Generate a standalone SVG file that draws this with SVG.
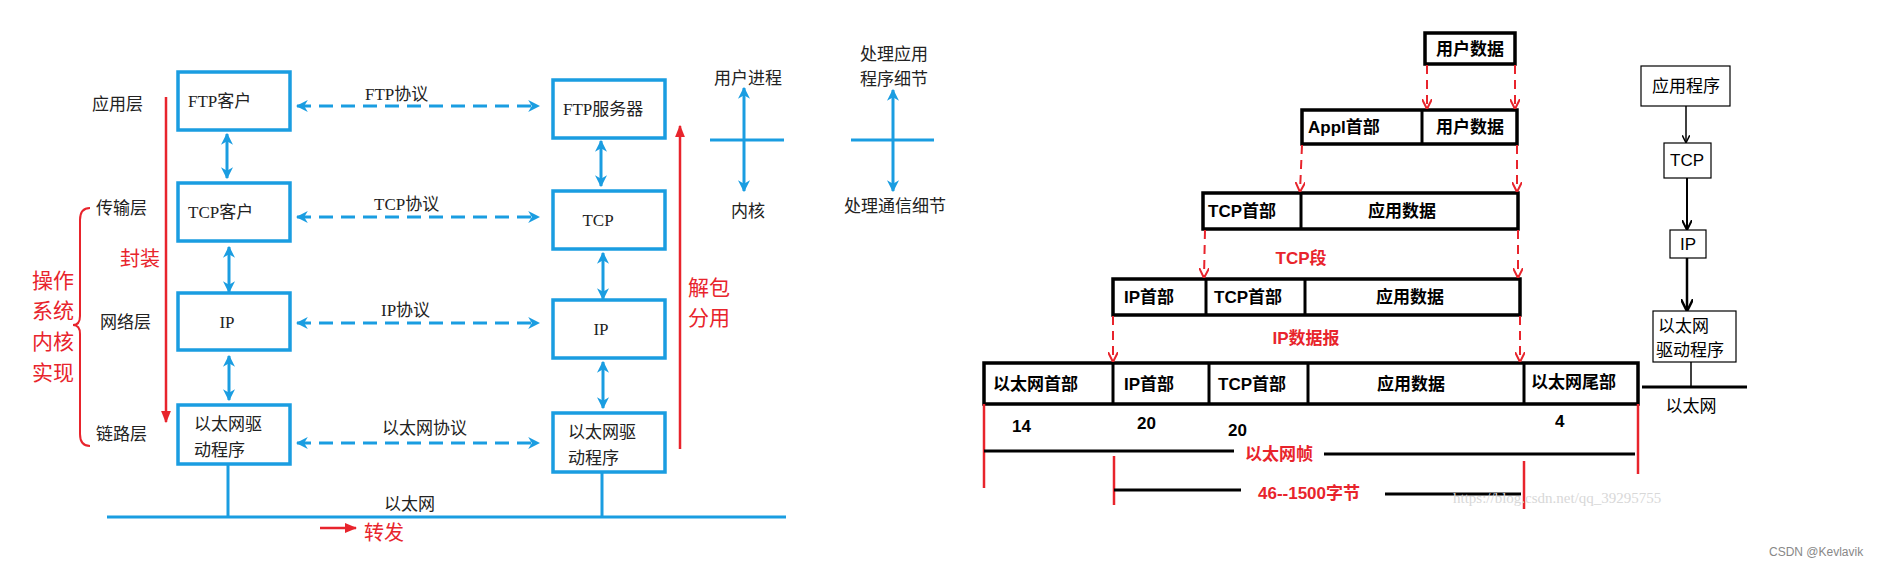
<svg xmlns="http://www.w3.org/2000/svg" width="1881" height="564" viewBox="0 0 1881 564">
<style>
text{font-family:"Liberation Serif","Noto Sans CJK SC",serif;font-size:17px;fill:#222}
.c{text-anchor:middle}
.bb{fill:none;stroke:#1a9de1;stroke-width:3.5}
.bl{stroke:#1a9de1;stroke-width:3;fill:none}
.dash{stroke:#1a9de1;stroke-width:3;stroke-dasharray:14,8;fill:none}
.tb{fill:#fff;stroke:#000;stroke-width:3.5}
.tt{font-family:"Liberation Sans","Noto Sans CJK SC",sans-serif;font-size:17px;fill:#000;font-weight:bold}
text.r{fill:#e8242c}
.rd{stroke:#e8242c;stroke-width:2;stroke-dasharray:9,6;fill:none}
.rl{stroke:#e8242c;stroke-width:2.5}
.k{stroke:#000;stroke-width:3}
.sb{fill:#fff;stroke:#000;stroke-width:1.2}
</style>
<defs>
<marker id="ba" viewBox="0 0 10 10" refX="9" refY="5" markerWidth="4" markerHeight="4" orient="auto-start-reverse"><path d="M0,0L10,5L0,10L3,5z" fill="#1a9de1"/></marker>
<marker id="ra" viewBox="0 0 10 10" refX="9" refY="5" markerWidth="5" markerHeight="5" orient="auto"><path d="M0,1L10,5L0,9z" fill="#e8242c"/></marker>
<marker id="ro" viewBox="0 0 10 10" refX="9" refY="5" markerWidth="5" markerHeight="5" orient="auto"><path d="M0,0L10,5L0,10" fill="none" stroke="#e8242c" stroke-width="2"/></marker>
<marker id="ko" viewBox="0 0 10 10" refX="9" refY="5" markerWidth="5" markerHeight="5" orient="auto"><path d="M0,0L10,5L0,10" fill="none" stroke="#000" stroke-width="2"/></marker>
</defs>
<g id="left-nodes">
<g id="ftpc"><rect class="bb" x="178" y="72" width="112" height="58"/><text x="188" y="107">FTP客户</text></g>
<g id="tcpc"><rect class="bb" x="178" y="183" width="112" height="58"/><text x="188" y="218">TCP客户</text></g>
<g id="ipc"><rect class="bb" x="178" y="293" width="112" height="57"/><text class="c" x="227" y="328">IP</text></g>
<g id="ethc"><rect class="bb" x="178" y="405" width="112" height="59"/><text x="194" y="430">以太网驱</text><text x="194" y="456">动程序</text></g>
<g id="ftps"><rect class="bb" x="553" y="80" width="112" height="58"/><text x="563" y="115">FTP服务器</text></g>
<g id="tcps"><rect class="bb" x="553" y="191" width="112" height="58"/><text class="c" x="598" y="226">TCP</text></g>
<g id="ips"><rect class="bb" x="553" y="300" width="112" height="58"/><text class="c" x="601" y="335">IP</text></g>
<g id="eths"><rect class="bb" x="553" y="413" width="112" height="59"/><text x="568" y="438">以太网驱</text><text x="568" y="464">动程序</text></g>
</g>
<g id="left-connectors">
<line class="dash" x1="297" y1="106" x2="539" y2="106" marker-start="url(#ba)" marker-end="url(#ba)"/>
<line class="dash" x1="297" y1="217" x2="539" y2="217" marker-start="url(#ba)" marker-end="url(#ba)"/>
<line class="dash" x1="297" y1="323" x2="539" y2="323" marker-start="url(#ba)" marker-end="url(#ba)"/>
<line class="dash" x1="297" y1="443" x2="539" y2="443" marker-start="url(#ba)" marker-end="url(#ba)"/>
<line class="bl" x1="227" y1="134" x2="227" y2="178" marker-start="url(#ba)" marker-end="url(#ba)"/>
<line class="bl" x1="229" y1="247" x2="229" y2="292" marker-start="url(#ba)" marker-end="url(#ba)"/>
<line class="bl" x1="229" y1="356" x2="229" y2="400" marker-start="url(#ba)" marker-end="url(#ba)"/>
<line class="bl" x1="601" y1="141" x2="601" y2="186" marker-start="url(#ba)" marker-end="url(#ba)"/>
<line class="bl" x1="603" y1="253" x2="603" y2="299" marker-start="url(#ba)" marker-end="url(#ba)"/>
<line class="bl" x1="603" y1="362" x2="603" y2="408" marker-start="url(#ba)" marker-end="url(#ba)"/>
<line class="bl" x1="107" y1="517" x2="786" y2="517"/>
<line class="bl" x1="228" y1="464" x2="228" y2="517"/>
<line class="bl" x1="602" y1="472" x2="602" y2="517"/>
<line class="rl" x1="166" y1="97" x2="166" y2="422" marker-end="url(#ra)"/>
<line class="rl" x1="680" y1="449" x2="680" y2="126" marker-end="url(#ra)"/>
<line class="rl" x1="320" y1="528" x2="356" y2="528" marker-end="url(#ra)"/>
<path d="M90,208 Q80,208 80,220 L80,316 Q80,325 73,325 Q80,325 80,334 L80,434 Q80,446 90,446" fill="none" stroke="#e8242c" stroke-width="2"/>
<line class="bl" x1="744" y1="140" x2="744" y2="88" marker-end="url(#ba)"/>
<line class="bl" x1="744" y1="140" x2="744" y2="191" marker-end="url(#ba)"/>
<line class="bl" x1="710" y1="140" x2="784" y2="140"/>
<line class="bl" x1="893" y1="140" x2="893" y2="90" marker-end="url(#ba)"/>
<line class="bl" x1="893" y1="140" x2="893" y2="191" marker-end="url(#ba)"/>
<line class="bl" x1="851" y1="140" x2="934" y2="140"/>
</g>
<g id="left-labels">
<text x="365" y="100">FTP协议</text>
<text x="374" y="210">TCP协议</text>
<text x="381" y="316">IP协议</text>
<text x="382" y="434">以太网协议</text>
<text x="92" y="110">应用层</text>
<text x="96" y="214">传输层</text>
<text x="100" y="328">网络层</text>
<text x="96" y="440">链路层</text>
<text class="r" x="120" y="266" style="font-size:20px">封装</text>
<text class="r" x="32" y="288" style="font-size:21px">操作</text>
<text class="r" x="32" y="318" style="font-size:21px">系统</text>
<text class="r" x="32" y="349" style="font-size:21px">内核</text>
<text class="r" x="32" y="380" style="font-size:21px">实现</text>
<text class="r" x="688" y="295" style="font-size:21px">解包</text>
<text class="r" x="688" y="325" style="font-size:21px">分用</text>
<text x="384" y="510">以太网</text>
<text class="r" x="364" y="540" style="font-size:20px">转发</text>
<text class="c" x="748" y="84">用户进程</text>
<text class="c" x="748" y="217">内核</text>
<text class="c" x="894" y="60">处理应用</text>
<text class="c" x="894" y="85">程序细节</text>
<text class="c" x="895" y="212">处理通信细节</text>
</g>
<g id="right-table">
<g id="r1"><rect class="tb" x="1425" y="33" width="90" height="31"/><text class="tt c" x="1470" y="55">用户数据</text></g>
<g id="r2"><rect class="tb" x="1302" y="110" width="215" height="34"/><line class="k" x1="1422" y1="110" x2="1422" y2="144"/><text class="tt" x="1308" y="133">Appl首部</text><text class="tt c" x="1470" y="133">用户数据</text></g>
<g id="r3"><rect class="tb" x="1203" y="193" width="315" height="36"/><line class="k" x1="1301" y1="193" x2="1301" y2="229"/><text class="tt" x="1208" y="217">TCP首部</text><text class="tt c" x="1402" y="217">应用数据</text></g>
<g id="r4"><rect class="tb" x="1113" y="279" width="407" height="36"/><line class="k" x1="1206" y1="279" x2="1206" y2="315"/><line class="k" x1="1305" y1="279" x2="1305" y2="315"/><text class="tt" x="1124" y="303">IP首部</text><text class="tt" x="1214" y="303">TCP首部</text><text class="tt c" x="1410" y="303">应用数据</text></g>
<g id="r5"><rect class="tb" x="984" y="363" width="654" height="41"/><line class="k" x1="1113" y1="363" x2="1113" y2="404"/><line class="k" x1="1209" y1="363" x2="1209" y2="404"/><line class="k" x1="1308" y1="363" x2="1308" y2="404"/><line class="k" x1="1524" y1="363" x2="1524" y2="404"/><text class="tt" x="993" y="390">以太网首部</text><text class="tt" x="1124" y="390">IP首部</text><text class="tt" x="1218" y="390">TCP首部</text><text class="tt c" x="1411" y="390">应用数据</text><text class="tt" x="1531" y="388">以太网尾部</text></g>
</g>
<g id="right-connectors">
<line class="rd" x1="1427" y1="65" x2="1427" y2="108" marker-end="url(#ro)"/>
<line class="rd" x1="1515" y1="65" x2="1515" y2="108" marker-end="url(#ro)"/>
<line class="rd" x1="1302" y1="145" x2="1300" y2="191" marker-end="url(#ro)"/>
<line class="rd" x1="1517" y1="145" x2="1517" y2="191" marker-end="url(#ro)"/>
<line class="rd" x1="1205" y1="230" x2="1204" y2="277" marker-end="url(#ro)"/>
<line class="rd" x1="1518" y1="230" x2="1518" y2="277" marker-end="url(#ro)"/>
<line class="rd" x1="1113" y1="316" x2="1113" y2="361" marker-end="url(#ro)"/>
<line class="rd" x1="1520" y1="316" x2="1520" y2="361" marker-end="url(#ro)"/>
<line class="rl" x1="984" y1="404" x2="984" y2="488"/>
<line class="rl" x1="1638" y1="404" x2="1638" y2="474"/>
<line class="rl" x1="1114" y1="456" x2="1114" y2="505"/>
<line class="rl" x1="1524" y1="461" x2="1524" y2="509"/>
<line class="k" x1="984" y1="451" x2="1234" y2="451"/>
<line class="k" x1="1324" y1="454" x2="1635" y2="454"/>
<line class="k" x1="1114" y1="490" x2="1241" y2="490"/>
<line class="k" x1="1385" y1="494" x2="1521" y2="494"/>
</g>
<g id="right-labels">
<text class="tt c r" x="1301" y="264">TCP段</text>
<text class="tt c r" x="1306" y="344">IP数据报</text>
<text class="tt" x="1012" y="432">14</text>
<text class="tt" x="1137" y="429">20</text>
<text class="tt" x="1228" y="436">20</text>
<text class="tt" x="1555" y="427">4</text>
<text class="tt c r" x="1279" y="460">以太网帧</text>
<text class="tt c r" x="1309" y="499">46--1500字节</text>
<text x="1453" y="503" style="font-size:15px;fill:#d8d8d8">https://blog.csdn.net/qq_39295755</text>
<text x="1769" y="556" style="font-family:'Liberation Sans',sans-serif;font-size:12px;fill:#888">CSDN @Kevlavik</text>
</g>
<g id="stack">
<g id="s1"><rect class="sb" x="1641" y="66" width="89" height="40"/><text class="tt c" x="1686" y="92" style="font-weight:normal">应用程序</text></g>
<g id="s2"><rect class="sb" x="1664" y="143" width="47" height="35"/><text class="tt c" x="1687" y="166" style="font-weight:normal">TCP</text></g>
<g id="s3"><rect class="sb" x="1670" y="230" width="36" height="28"/><text class="tt c" x="1688" y="250" style="font-weight:normal">IP</text></g>
<g id="s4"><rect class="sb" x="1653" y="311" width="83" height="51"/><text class="tt" x="1658" y="332" style="font-weight:normal">以太网</text><text class="tt" x="1656" y="356" style="font-weight:normal">驱动程序</text></g>
<line stroke="#000" stroke-width="1.5" x1="1686" y1="106" x2="1686" y2="142" marker-end="url(#ko)"/>
<line stroke="#000" stroke-width="2" x1="1687" y1="178" x2="1687" y2="229" marker-end="url(#ko)"/>
<line stroke="#000" stroke-width="2.5" x1="1687" y1="258" x2="1687" y2="310" marker-end="url(#ko)"/>
<line stroke="#000" stroke-width="1.5" x1="1691" y1="362" x2="1691" y2="387"/>
<line class="k" x1="1642" y1="387" x2="1747" y2="387"/>
<text class="tt c" x="1691" y="412" style="font-weight:normal">以太网</text>
</g>
</svg>
